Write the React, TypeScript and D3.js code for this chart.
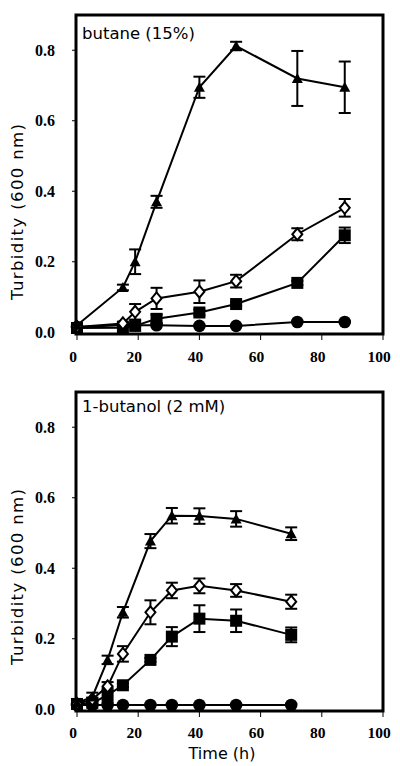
import React from "react";
import * as d3 from "d3";

// ---------- data ----------
const xTicks = [0, 20, 40, 60, 80, 100];
const yTicks = [0, 0.2, 0.4, 0.6, 0.8];

// top panel: butane (15%)
const butaneTime = [0, 15, 19, 26, 40, 52, 72, 87.5];
const butaneTriangle = [0.02, 0.127, 0.2, 0.37, 0.695, 0.812, 0.72, 0.695];
const butaneTriangleErr = [0.005, 0.008, 0.035, 0.017, 0.03, 0.012, 0.078, 0.073];
const butaneDiamond = [0.015, 0.025, 0.058, 0.096, 0.115, 0.145, 0.278, 0.353];
const butaneDiamondErr = [0.004, 0.005, 0.022, 0.03, 0.032, 0.018, 0.017, 0.025];
const butaneSquare = [0.012, 0.013, 0.018, 0.038, 0.056, 0.08, 0.14, 0.275];
const butaneSquareErr = [0, 0, 0.004, 0.012, 0.008, 0.005, 0.006, 0.022];
const butaneCircle = [0.015, 0.02, 0.02, 0.02, 0.018, 0.018, 0.029, 0.029];
const butaneCircleErr = [0, 0, 0, 0, 0, 0, 0, 0];

// bottom panel: 1-butanol (2 mM)
const butanolTime = [0, 5, 10, 15, 24, 31, 40, 52, 70];
const butanolTriangle = [0.018, 0.035, 0.14, 0.275, 0.477, 0.549, 0.548, 0.54, 0.498];
const butanolTriangleErr = [0.003, 0.012, 0.012, 0.015, 0.02, 0.022, 0.022, 0.022, 0.018];
const butanolDiamond = [0.015, 0.028, 0.065, 0.157, 0.275, 0.337, 0.35, 0.337, 0.305];
const butanolDiamondErr = [0.003, 0.005, 0.012, 0.022, 0.034, 0.022, 0.021, 0.018, 0.02];
const butanolSquare = [0.015, 0.018, 0.04, 0.068, 0.14, 0.206, 0.257, 0.251, 0.211];
const butanolSquareErr = [0, 0.005, 0.02, 0.005, 0.005, 0.027, 0.038, 0.032, 0.021];
const butanolCircle = [0.012, 0.012, 0.012, 0.012, 0.012, 0.012, 0.012, 0.012, 0.012];
const butanolCircleErr = [0, 0, 0, 0, 0, 0, 0, 0, 0];

type Series = { shape: string; values: number[]; err: number[] };

const panels = [
  {
    title: "butane (15%)",
    time: butaneTime,
    top: 15,
    titleY: 39,
    xLabelY: 362,
    yLabelCenter: 212,
    series: [
      { shape: "circle", values: butaneCircle, err: butaneCircleErr },
      { shape: "square", values: butaneSquare, err: butaneSquareErr },
      { shape: "diamond", values: butaneDiamond, err: butaneDiamondErr },
      { shape: "triangle", values: butaneTriangle, err: butaneTriangleErr },
    ] as Series[],
    showXTitle: false,
  },
  {
    title: "1-butanol (2 mM)",
    time: butanolTime,
    top: 392,
    titleY: 412,
    xLabelY: 738,
    yLabelCenter: 577,
    series: [
      { shape: "circle", values: butanolCircle, err: butanolCircleErr },
      { shape: "square", values: butanolSquare, err: butanolSquareErr },
      { shape: "diamond", values: butanolDiamond, err: butanolDiamondErr },
      { shape: "triangle", values: butanolTriangle, err: butanolTriangleErr },
    ] as Series[],
    showXTitle: true,
  },
];

const LEFT = 76;
const RIGHT = 383;
const PANEL_H = 319;
const SANS = "'DejaVu Sans', sans-serif";
const SERIF = "'Liberation Serif', 'Times New Roman', serif";

function Marker({ shape, x, y }: { shape: string; x: number; y: number }) {
  if (shape === "circle") return <circle cx={x} cy={y} r={6.3} fill="#000" />;
  if (shape === "square")
    return <rect x={x - 6} y={y - 6} width={12} height={12} fill="#000" />;
  if (shape === "diamond")
    return (
      <path
        d={`M${x},${y - 6}L${x + 5},${y}L${x},${y + 6}L${x - 5},${y}Z`}
        fill="#fff"
        stroke="#000"
        strokeWidth={2}
      />
    );
  return (
    <path
      d={`M${x},${y - 5.5}L${x + 5.5},${y + 4.5}L${x - 5.5},${y + 4.5}Z`}
      fill="#000"
    />
  );
}

function Panel({ p }: { p: (typeof panels)[number] }) {
  const x = d3.scaleLinear().domain([0, 100]).range([LEFT + 1, RIGHT]);
  const y = d3
    .scaleLinear()
    .domain([-0.005, 0.9])
    .range([p.top + PANEL_H, p.top]);
  const bottom = p.top + PANEL_H;
  return (
    <g>
      {/* y ticks */}
      {yTicks.map((t) => (
        <g key={"y" + t}>
          <line x1={LEFT - 4} x2={LEFT} y1={y(t)} y2={y(t)} stroke="#000" strokeWidth={1} />
          <text
            x={55}
            y={y(t)}
            dy="0.35em"
            textAnchor="end"
            fontFamily={SERIF}
            fontWeight="bold"
            fontSize={16}
          >
            {d3.format(".1f")(t)}
          </text>
        </g>
      ))}
      {/* x ticks */}
      {xTicks.map((t) => (
        <g key={"x" + t}>
          <line x1={x(t)} x2={x(t)} y1={bottom} y2={bottom + 6} stroke="#000" strokeWidth={1} />
          <text
            x={x(t) - 4}
            y={p.xLabelY}
            textAnchor="middle"
            fontFamily={SERIF}
            fontWeight="bold"
            fontSize={15.5}
          >
            {t}
          </text>
        </g>
      ))}
      {/* series lines */}
      {p.series.map((s, i) => {
        const line = d3
          .line<number>()
          .x((_, j) => x(p.time[j]))
          .y((v) => y(v));
        return (
          <path key={"l" + i} d={line(s.values) || ""} fill="none" stroke="#000" strokeWidth={2} />
        );
      })}
      {/* error bars */}
      {p.series.map((s, i) =>
        s.values.map((v, j) =>
          s.err[j] > 0.004 ? (
            <g key={"e" + i + "-" + j} stroke="#000" strokeWidth={2}>
              <line x1={x(p.time[j])} x2={x(p.time[j])} y1={y(v - s.err[j])} y2={y(v + s.err[j])} />
              <line x1={x(p.time[j]) - 6} x2={x(p.time[j]) + 6} y1={y(v - s.err[j])} y2={y(v - s.err[j])} />
              <line x1={x(p.time[j]) - 6} x2={x(p.time[j]) + 6} y1={y(v + s.err[j])} y2={y(v + s.err[j])} />
            </g>
          ) : null
        )
      )}
      {/* markers */}
      {p.series.map((s, i) =>
        s.values.map((v, j) => (
          <Marker key={"m" + i + "-" + j} shape={s.shape} x={x(p.time[j])} y={y(v)} />
        ))
      )}
      {/* frame */}
      <rect x={LEFT} y={p.top} width={RIGHT - LEFT} height={PANEL_H} fill="none" stroke="#000" strokeWidth={3} />
      <text x={82} y={p.titleY} fontFamily={SANS} fontSize={16.5}>
        {p.title}
      </text>
      <text
        transform={`translate(23,${p.yLabelCenter}) rotate(-90)`}
        textAnchor="middle"
        fontFamily={SANS}
        fontSize={16.5}
        textLength={176}
        lengthAdjust="spacing"
      >
        {"Turbidity  (600 nm)"}
      </text>
      {p.showXTitle && (
        <text x={222} y={759} textAnchor="middle" fontFamily={SANS} fontSize={16}>
          Time (h)
        </text>
      )}
    </g>
  );
}

export default function App() {
  return (
    <svg
      width={400}
      height={766}
      style={{ position: "absolute", left: 0, top: 0, background: "#fff" }}
    >
      <rect width={400} height={766} fill="#fff" />
      {panels.map((p, i) => (
        <Panel key={i} p={p} />
      ))}
    </svg>
  );
}
